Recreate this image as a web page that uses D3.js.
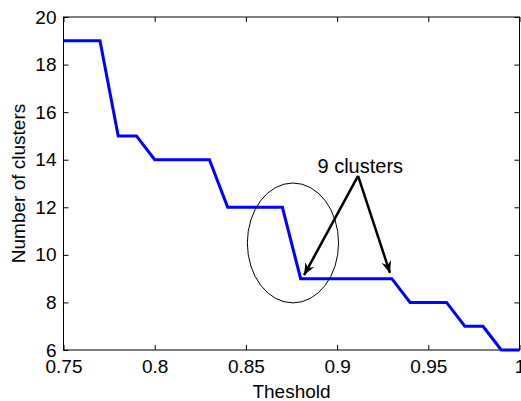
<!DOCTYPE html>
<html>
<head>
<meta charset="utf-8">
<script src="https://cdn.jsdelivr.net/npm/d3@7"></script>
<style>
  body { margin: 0; background: #fff; }
  svg { display: block; font-family: "Liberation Sans", Arial, Helvetica, sans-serif; }
</style>
</head>
<body>
<svg id="chart"></svg>
<script>
const width = 521, height = 401;
const margin = {top: 17, right: 1.5, bottom: 51, left: 63.5};

// threshold values and the number of clusters found at each
const thresholds = [0.75, 0.76, 0.77, 0.78, 0.79, 0.80, 0.81, 0.82, 0.83, 0.84, 0.85, 0.86, 0.87,
                    0.88, 0.89, 0.90, 0.91, 0.92, 0.93, 0.94, 0.95, 0.96, 0.97, 0.98, 0.99, 1.00];
const clusters = [19, 19, 19, 15, 15, 14, 14, 14, 14, 12, 12, 12, 12,
                  9, 9, 9, 9, 9, 9, 8, 8, 8, 7, 7, 6, 6];

const xTicks = [0.75, 0.8, 0.85, 0.9, 0.95, 1];
const yTicks = [6, 8, 10, 12, 14, 16, 18, 20];

const annotationText = '9 clusters';

const svg = d3.select('#chart')
    .attr('width', width)
    .attr('height', height);

const x = d3.scaleLinear()
    .domain([0.75, 1])
    .range([margin.left, width - margin.right]);

const y = d3.scaleLinear()
    .domain([6, 20])
    .range([height - margin.bottom, margin.top]);

const fmt = d => String(+d.toFixed(2));

// box + inward ticks, matlab style
const axisStyle = g => {
  g.select('.domain').remove();
  g.selectAll('.tick line').attr('stroke', '#000');
  g.selectAll('.tick text').attr('fill', '#000').style('font-size', '19px');
};

svg.append('g')
    .attr('transform', `translate(0,${y(6)})`)
    .call(d3.axisBottom(x).tickValues(xTicks).tickFormat(fmt).tickSizeInner(-5).tickSizeOuter(0).tickPadding(10))
    .call(axisStyle);

svg.append('g')
    .attr('transform', `translate(0,${y(20)})`)
    .call(d3.axisTop(x).tickValues(xTicks).tickFormat('').tickSizeInner(-5).tickSizeOuter(0))
    .call(axisStyle);

svg.append('g')
    .attr('transform', `translate(${x(0.75)},0)`)
    .call(d3.axisLeft(y).tickValues(yTicks).tickSizeInner(-5).tickSizeOuter(0).tickPadding(7))
    .call(axisStyle);

svg.append('g')
    .attr('transform', `translate(${x(1)},0)`)
    .call(d3.axisRight(y).tickValues(yTicks).tickFormat('').tickSizeInner(-5).tickSizeOuter(0))
    .call(axisStyle);

svg.append('rect')
    .attr('x', x(0.75))
    .attr('y', y(20))
    .attr('width', x(1) - x(0.75))
    .attr('height', y(6) - y(20))
    .attr('fill', 'none')
    .attr('stroke', '#000')
    .attr('stroke-width', 1);

const line = d3.line()
    .x((d, i) => x(thresholds[i]))
    .y(d => y(d));

svg.append('path')
    .datum(clusters)
    .attr('fill', 'none')
    .attr('stroke', '#0000ff')
    .attr('stroke-width', 3)
    .attr('stroke-linejoin', 'miter')
    .attr('d', line);

// labels
svg.append('text')
    .attr('x', (x(0.75) + x(1)) / 2)
    .attr('y', 397.5)
    .attr('text-anchor', 'middle')
    .style('font-size', '19px')
    .text('Theshold');

svg.append('text')
    .attr('transform', `translate(25,${(y(6) + y(20)) / 2}) rotate(-90)`)
    .attr('text-anchor', 'middle')
    .style('font-size', '19px')
    .text('Number of clusters');

// annotation: ellipse and two arrows
svg.append('defs').append('marker')
    .attr('id', 'head')
    .attr('viewBox', '-13 -6 15 12')
    .attr('markerWidth', 15)
    .attr('markerHeight', 12)
    .attr('markerUnits', 'userSpaceOnUse')
    .attr('refX', 0)
    .attr('refY', 0)
    .attr('orient', 'auto')
  .append('path')
    .attr('d', 'M0,0 L-12,-5 L-8,0 L-12,5 Z')
    .attr('fill', '#000');

svg.append('ellipse')
    .attr('cx', x(0.8758))
    .attr('cy', y(10.5))
    .attr('rx', x(0.8758 + 0.025) - x(0.8758))
    .attr('ry', y(10.5) - y(13.02))
    .attr('fill', 'none')
    .attr('stroke', '#000')
    .attr('stroke-width', 1);

const apex = [0.9115, 13.32];
const tips = [[0.8819, 9.15], [0.929, 9.24]];

svg.selectAll('.arrow')
  .data(tips)
  .join('line')
    .attr('class', 'arrow')
    .attr('x1', x(apex[0]))
    .attr('y1', y(apex[1]))
    .attr('x2', d => x(d[0]))
    .attr('y2', d => y(d[1]))
    .attr('stroke', '#000')
    .attr('stroke-width', 2.5)
    .attr('marker-end', 'url(#head)');

svg.append('text')
    .attr('x', x(0.9127))
    .attr('y', y(13.44))
    .attr('text-anchor', 'middle')
    .style('font-size', '20px')
    .text(annotationText);
</script>
</body>
</html>
